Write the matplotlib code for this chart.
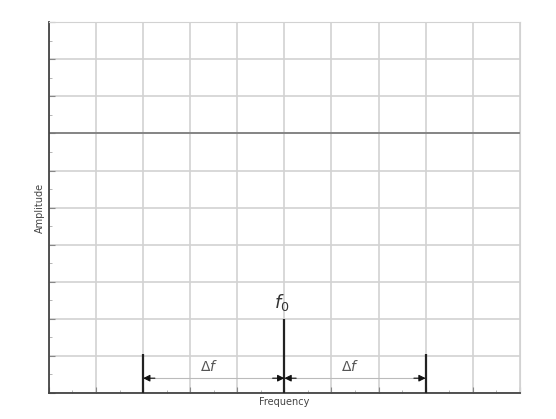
import matplotlib.pyplot as plt
import numpy as np

# spectrum: carrier f0 and two side components at f0 +/- df (grid divisions)
f0 = 5.0
df = 3.0
freqs = [f0 - df, f0, f0 + df]
amps = [1.05, 2.0, 1.05]
ref_level = 7.0
arrow_y = 0.4

fig = plt.figure(figsize=(5.56, 4.19), dpi=100)
ax = fig.add_axes([0.088, 0.062, 0.847, 0.885])
ax.set_xlim(0, 10)
ax.set_ylim(0, 10)

ax.set_xticks(np.arange(0, 11, 1))
ax.set_yticks(np.arange(0, 11, 1))
ax.set_xticks(np.arange(0, 10.01, 0.5), minor=True)
ax.set_yticks(np.arange(0, 10.01, 0.5), minor=True)
ax.tick_params(which='both', labelbottom=False, labelleft=False, direction='in')
ax.tick_params(which='major', length=4, color='#888888')
ax.tick_params(which='minor', length=2, color='#aaaaaa')
ax.grid(True, which='major', color='#d2d2d2', lw=1.2)

ax.axhline(ref_level, color='#777777', lw=1.2, zorder=2)

for s in ['top', 'right']:
    ax.spines[s].set_color('#d2d2d2')
for s in ['left', 'bottom']:
    ax.spines[s].set_color('#444444')
    ax.spines[s].set_linewidth(1.3)

ax.vlines(freqs, 0, amps, color='#222222', lw=1.6, zorder=4, clip_on=False)

# delta f arrows: light shaft, dark heads
for a, b in [(freqs[0], freqs[1]), (freqs[1], freqs[2])]:
    ax.hlines(arrow_y, a, b, color='#bbbbbb', lw=0.8, zorder=3)
    for tip, tail in [(a, a + 0.25), (b, b - 0.25)]:
        ax.annotate('', xy=(tip, arrow_y), xytext=(tail, arrow_y),
                    arrowprops=dict(arrowstyle='-|>', color='#111111', lw=0.8,
                                    mutation_scale=10, shrinkA=0, shrinkB=0),
                    zorder=5)
    ax.text((a + b) / 2 - 0.1, arrow_y + 0.1, r'$\Delta f$', ha='center',
            va='bottom', fontsize=10, color='#555555')

ax.text(f0 - 0.05, amps[1] + 0.15, r'$f_0$', ha='center', va='bottom',
        fontsize=13, color='#333333')

ax.set_xlabel('Frequency', fontsize=7, color='#444444', labelpad=3)
ax.set_ylabel('Amplitude', fontsize=7, color='#444444', labelpad=3)

plt.savefig('out.png')
